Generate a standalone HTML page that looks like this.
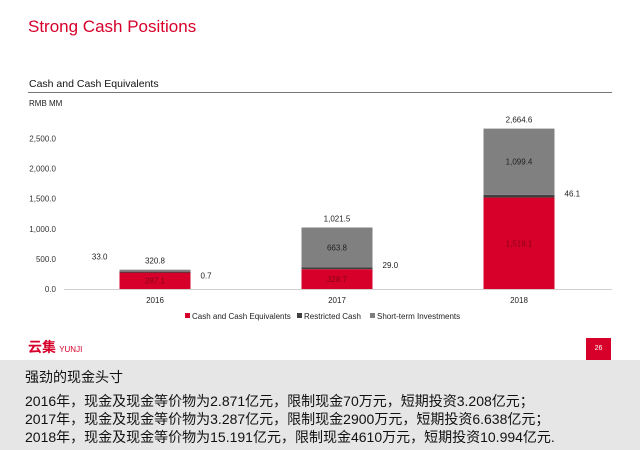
<!DOCTYPE html>
<html><head><meta charset="utf-8"><style>
body{margin:0;width:640px;height:450px;overflow:hidden;background:#fff;font-family:"Liberation Sans","Noto Sans CJK SC",sans-serif;position:relative}
.abs{position:absolute}
#band{left:0;top:360px;width:640px;height:90px;background:#e6e6e6}
.cn{left:25px;font-size:14px;color:#111;white-space:nowrap;line-height:18px}
</style></head><body>
<div class="abs" style="left:28px;top:17px;font-size:17px;color:#d6002a">Strong Cash Positions</div>
<div class="abs" style="left:29px;top:78px;font-size:10.5px;color:#111">Cash and Cash Equivalents</div>
<div class="abs" style="left:28px;top:92px;width:584px;height:1px;background:#777"></div>
<div class="abs" style="left:29px;top:99px;font-size:8px;color:#222">RMB MM</div>
<svg class="abs" style="left:0;top:0" width="640" height="340">
<g id="g" font-family="Liberation Sans, sans-serif" font-size="8"></g>
</svg>
<div class="abs" style="left:28px;top:337px;color:#d6002a;font-size:14px;font-weight:bold;font-family:'Noto Sans CJK SC',sans-serif">云集 <span style="font-size:8px;font-weight:normal;font-family:'Liberation Sans',sans-serif">YUNJI</span></div>
<div class="abs" style="left:586px;top:338px;width:25px;height:22px;background:#d6002a;color:#fff;font-size:7px;text-align:center;line-height:22px">26</div>
<div class="abs" id="band"></div>
<div class="abs cn" style="top:368px">强劲的现金头寸</div>
<div class="abs cn" style="top:392px">2016年，现金及现金等价物为2.871亿元，限制现金70万元，短期投资3.208亿元；</div>
<div class="abs cn" style="top:410px">2017年，现金及现金等价物为3.287亿元，限制现金2900万元，短期投资6.638亿元；</div>
<div class="abs cn" style="top:428px">2018年，现金及现金等价物为15.191亿元，限制现金4610万元，短期投资10.994亿元.</div>
<script>
const categories=["2016","2017","2018"];
const cashValues=[287.1,328.7,1519.1];
const restrictedValues=[0.7,29.0,46.1];
const shortTermValues=[33.0,663.8,1099.4];
const totalLabels=["320.8","1,021.5","2,664.6"];
const yTicks=[0,500,1000,1500,2000,2500];
const y0=289,pxPer=150.5/2500;
const y=v=>y0-v*pxPer;
const xc=i=>155+i*182, bw=71;
const g=document.getElementById('g');
const NS="http://www.w3.org/2000/svg";
function mk(t,a){const e=document.createElementNS(NS,t);for(const k in a)e.setAttribute(k,a[k]);g.appendChild(e);return e;}
const fmt=v=>v.toLocaleString('en-US',{minimumFractionDigits:1,maximumFractionDigits:1});
yTicks.forEach(t=>{const e=mk('text',{x:56,y:y(t)+3,'text-anchor':'end',fill:'#333'});e.textContent=fmt(t);

});
const ax=mk('line',{x1:64,x2:612,y1:y0+0.5,y2:y0+0.5,stroke:'#d0d0d0'});


categories.forEach((c,i)=>{
 const x=xc(i)-bw/2;let base=0;
 const segs=[[cashValues[i],'#d6002a','bar-cash'],[restrictedValues[i],'#404040','bar-restricted'],[shortTermValues[i],'#808080','bar-short-term']];
 segs.forEach(s=>{const h=s[0]*pxPer;const r=mk('rect',{x:x,y:y(base+s[0]),width:bw,height:Math.max(h,1),fill:s[1]});
 
 base+=s[0];});
 const tl=mk('text',{x:xc(i),y:y(base)-6,'text-anchor':'middle',fill:'#222'});tl.textContent=totalLabels[i];
 
 
 const cl=mk('text',{x:xc(i),y:y(cashValues[i]/2)+3,'text-anchor':'middle',fill:'#8a0018'});cl.textContent=fmt(cashValues[i]);
 
 
 const rl=mk('text',{x:x+bw+10,y:y(cashValues[i])+ (i==0?7:-1),fill:'#222'});rl.textContent=fmt(restrictedValues[i]);
 
 
 let sl;
 if(i==0){sl=mk('text',{x:x-12,y:y(base)-10,'text-anchor':'end',fill:'#222'});}
 else{sl=mk('text',{x:xc(i),y:y(cashValues[i]+restrictedValues[i]+shortTermValues[i]/2)+3,'text-anchor':'middle',fill:'#222'});}
 sl.textContent=fmt(shortTermValues[i]);
 
 
 const xl=mk('text',{x:xc(i),y:303,'text-anchor':'middle',fill:'#222'});xl.textContent=c;
 
 
});
const leg=[["Cash and Cash Equivalents",'#d6002a',185],["Restricted Cash",'#404040',297],["Short-term Investments",'#808080',370]];
leg.forEach(l=>{const r=mk('rect',{x:l[2],y:313,width:5,height:5,fill:l[1]});


const t=mk('text',{x:l[2]+7,y:319,fill:'#222'});t.textContent=l[0];

});
</script>
</body></html>
